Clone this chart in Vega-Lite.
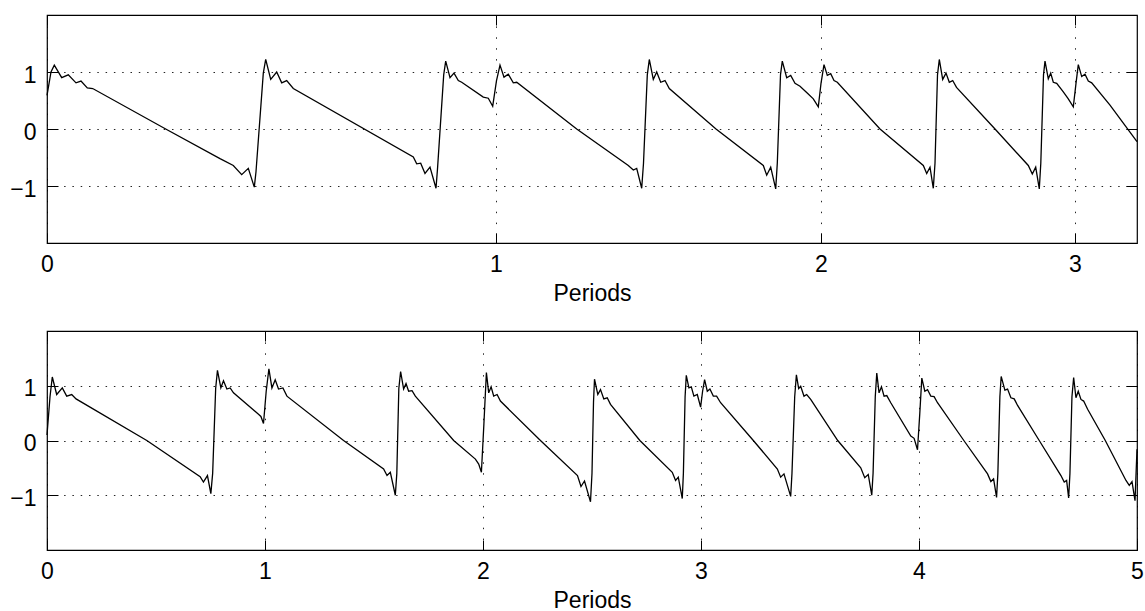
{
  "$schema": "https://vega.github.io/schema/vega-lite/v6.json",
  "padding": {"left": 9, "top": 13, "right": 8, "bottom": 0},
  "background": "white",
  "spacing": 23,
  "config": {
    "font": "Liberation Sans",
    "view": {"stroke": "black", "strokeWidth": 1.2},
    "axis": {
      "labelFontSize": 23, "titleFontSize": 23, "titleFontWeight": "normal",
      "labelColor": "black", "titleColor": "black", "tickColor": "black",
      "domain": false, "labelFlush": false, "labelOverlap": false,
      "gridColor": "black", "gridOpacity": 0.85, "gridWidth": 1
    },
    "axisX": {"tickSize": -10, "labelPadding": 20.4, "titlePadding": 6, "gridDash": [1.5, 9.4]},
    "axisY": {"tickSize": -11, "labelPadding": 22, "labelOffset": 3, "gridDash": [1.5, 6.8]}
  },
  "datasets": {
    "top": [
      {"t":0.000,"y":0.59},{"t":0.004,"y":1.0},{"t":0.0073,"y":1.12},{"t":0.0147,"y":0.9},{"t":0.0213,"y":0.95},{"t":0.029,"y":0.81},{"t":0.034,"y":0.84},{"t":0.0403,"y":0.72},{"t":0.0457,"y":0.71},{"t":0.1187,"y":0.0},{"t":0.173,"y":-0.52},{"t":0.1863,"y":-0.64},{"t":0.1947,"y":-0.8},{"t":0.2013,"y":-0.69},{"t":0.2073,"y":-1.02},
      {"t":0.209,"y":-0.75},{"t":0.2163,"y":0.98},{"t":0.2187,"y":1.22},{"t":0.2237,"y":0.87},{"t":0.2297,"y":1.0},{"t":0.2347,"y":0.81},{"t":0.2397,"y":0.85},{"t":0.2463,"y":0.71},{"t":0.3663,"y":-0.49},{"t":0.3697,"y":-0.61},{"t":0.3737,"y":-0.6},{"t":0.378,"y":-0.78},{"t":0.383,"y":-0.67},{"t":0.389,"y":-1.04},
      {"t":0.3905,"y":-0.7},{"t":0.3967,"y":0.95},{"t":0.3987,"y":1.19},{"t":0.403,"y":0.90},{"t":0.407,"y":0.98},{"t":0.4113,"y":0.85},{"t":0.4147,"y":0.82},{"t":0.4363,"y":0.56},{"t":0.4413,"y":0.54},{"t":0.4457,"y":0.40},
      {"t":0.4495,"y":0.85},{"t":0.453,"y":1.12},{"t":0.457,"y":0.91},{"t":0.4613,"y":0.96},{"t":0.4663,"y":0.81},{"t":0.4697,"y":0.82},{"t":0.5297,"y":0.0},{"t":0.5813,"y":-0.64},{"t":0.5863,"y":-0.72},{"t":0.5897,"y":-0.69},{"t":0.5947,"y":-1.04},
      {"t":0.5965,"y":-0.6},{"t":0.6003,"y":0.95},{"t":0.6023,"y":1.22},{"t":0.6063,"y":0.87},{"t":0.6097,"y":1.0},{"t":0.6137,"y":0.82},{"t":0.618,"y":0.85},{"t":0.6223,"y":0.71},{"t":0.669,"y":0.0},{"t":0.7163,"y":-0.64},{"t":0.7197,"y":-0.81},{"t":0.7237,"y":-0.67},{"t":0.7287,"y":-1.05},
      {"t":0.7303,"y":-0.6},{"t":0.7335,"y":0.95},{"t":0.7353,"y":1.19},{"t":0.7397,"y":0.90},{"t":0.7437,"y":0.94},{"t":0.748,"y":0.80},{"t":0.753,"y":0.75},{"t":0.761,"y":0.62},{"t":0.7663,"y":0.53},{"t":0.7713,"y":0.39},
      {"t":0.774,"y":0.8},{"t":0.777,"y":1.13},{"t":0.7803,"y":0.94},{"t":0.7837,"y":0.97},{"t":0.787,"y":0.85},{"t":0.7903,"y":0.82},{"t":0.833,"y":0.0},{"t":0.8763,"y":-0.64},{"t":0.8797,"y":-0.78},{"t":0.883,"y":-0.67},{"t":0.8863,"y":-1.04},
      {"t":0.888,"y":-0.6},{"t":0.8905,"y":0.95},{"t":0.8923,"y":1.22},{"t":0.8957,"y":0.87},{"t":0.899,"y":0.98},{"t":0.9023,"y":0.82},{"t":0.9057,"y":0.85},{"t":0.9095,"y":0.73},{"t":0.948,"y":0.0},{"t":0.9813,"y":-0.64},{"t":0.9853,"y":-0.79},{"t":0.9887,"y":-0.67},{"t":0.9923,"y":-1.05},
      {"t":0.9938,"y":-0.6},{"t":0.9965,"y":0.95},{"t":0.998,"y":1.19},{"t":1.0013,"y":0.88},{"t":1.0037,"y":0.98},{"t":1.0063,"y":0.82},{"t":1.0097,"y":0.80},{"t":1.0163,"y":0.65},{"t":1.0213,"y":0.53},{"t":1.0263,"y":0.39},
      {"t":1.029,"y":0.8},{"t":1.0313,"y":1.13},{"t":1.0347,"y":0.92},{"t":1.038,"y":0.96},{"t":1.0413,"y":0.84},{"t":1.0447,"y":0.81},{"t":1.063,"y":0.42},{"t":1.09,"y":-0.22}
    ],
    "bottom": [
      {"p":0,"y":0.10},{"p":0.0138,"y":0.8},{"p":0.0243,"y":1.16},{"p":0.0445,"y":0.84},{"p":0.0702,"y":0.96},{"p":0.0904,"y":0.81},{"p":0.1134,"y":0.84},{"p":0.1332,"y":0.76},{"p":0.4578,"y":0.0},{"p":0.7025,"y":-0.66},{"p":0.7176,"y":-0.76},{"p":0.7360,"y":-0.64},{"p":0.7516,"y":-0.97},
      {"p":0.7599,"y":-0.6},{"p":0.7737,"y":0.95},{"p":0.7819,"y":1.28},{"p":0.7975,"y":0.96},{"p":0.8095,"y":1.09},{"p":0.8251,"y":0.94},{"p":0.8402,"y":0.96},{"p":0.8554,"y":0.87},{"p":0.9702,"y":0.48},{"p":0.9812,"y":0.44},{"p":0.9931,"y":0.31},
      {"p":1.0055,"y":0.9},{"p":1.0179,"y":1.31},{"p":1.0317,"y":0.96},{"p":1.0468,"y":1.11},{"p":1.0620,"y":0.94},{"p":1.0822,"y":0.96},{"p":1.1006,"y":0.81},{"p":1.3604,"y":0.0},{"p":1.5441,"y":-0.52},{"p":1.5597,"y":-0.64},{"p":1.5749,"y":-0.58},{"p":1.5978,"y":-1.0},
      {"p":1.6047,"y":-0.6},{"p":1.6139,"y":0.95},{"p":1.6221,"y":1.26},{"p":1.6359,"y":0.94},{"p":1.6469,"y":1.04},{"p":1.6589,"y":0.90},{"p":1.6745,"y":0.91},{"p":1.6896,"y":0.81},{"p":1.8655,"y":0.0},{"p":1.9651,"y":-0.34},{"p":1.9803,"y":-0.43},{"p":1.9927,"y":-0.58},
      {"p":2.0041,"y":0.3},{"p":2.0156,"y":1.24},{"p":2.0262,"y":0.87},{"p":2.0372,"y":0.98},{"p":2.0491,"y":0.81},{"p":2.0647,"y":0.84},{"p":2.0799,"y":0.72},{"p":2.2635,"y":0.0},{"p":2.4334,"y":-0.64},{"p":2.4495,"y":-0.84},{"p":2.4656,"y":-0.74},{"p":2.4931,"y":-1.12},
      {"p":2.5000,"y":-0.6},{"p":2.5069,"y":0.7},{"p":2.5115,"y":1.12},{"p":2.5266,"y":0.84},{"p":2.5390,"y":0.93},{"p":2.5542,"y":0.76},{"p":2.5698,"y":0.78},{"p":2.5849,"y":0.66},{"p":2.7195,"y":0.0},{"p":2.8682,"y":-0.58},{"p":2.8834,"y":-0.73},{"p":2.8958,"y":-0.67},{"p":2.9141,"y":-1.06},
      {"p":2.9192,"y":-0.6},{"p":2.9270,"y":0.8},{"p":2.9325,"y":1.19},{"p":2.9445,"y":0.96},{"p":2.9555,"y":0.98},{"p":2.9674,"y":0.81},{"p":2.9830,"y":0.84},{"p":2.9982,"y":0.61},
      {"p":3.0073,"y":0.9},{"p":3.0165,"y":1.11},{"p":3.0289,"y":0.90},{"p":3.0409,"y":0.94},{"p":3.0565,"y":0.81},{"p":3.0716,"y":0.81},{"p":3.0900,"y":0.69},{"p":3.2401,"y":0.0},{"p":3.3503,"y":-0.52},{"p":3.3655,"y":-0.67},{"p":3.3806,"y":-0.61},{"p":3.4114,"y":-1.02},
      {"p":3.4173,"y":-0.6},{"p":3.4298,"y":0.8},{"p":3.4376,"y":1.2},{"p":3.4481,"y":0.95},{"p":3.4573,"y":0.99},{"p":3.4725,"y":0.81},{"p":3.4848,"y":0.84},{"p":3.5032,"y":0.75},{"p":3.6272,"y":0.0},{"p":3.7328,"y":-0.50},{"p":3.7511,"y":-0.68},{"p":3.7672,"y":-0.62},{"p":3.7833,"y":-1.0},
      {"p":3.7893,"y":-0.6},{"p":3.7994,"y":0.8},{"p":3.8063,"y":1.23},{"p":3.8168,"y":0.87},{"p":3.8278,"y":0.98},{"p":3.8398,"y":0.81},{"p":3.8522,"y":0.82},{"p":3.8705,"y":0.69},{"p":3.9624,"y":0.08},{"p":3.9775,"y":0.04},{"p":3.9931,"y":-0.17},
      {"p":4.0037,"y":0.5},{"p":4.0129,"y":1.14},{"p":4.0267,"y":0.90},{"p":4.0390,"y":0.93},{"p":4.0542,"y":0.81},{"p":4.0693,"y":0.80},{"p":4.0849,"y":0.69},{"p":4.2057,"y":0.0},{"p":4.3145,"y":-0.61},{"p":4.3297,"y":-0.75},{"p":4.3421,"y":-0.70},{"p":4.3558,"y":-1.04},
      {"p":4.3618,"y":-0.6},{"p":4.3710,"y":0.8},{"p":4.3770,"y":1.17},{"p":4.3939,"y":0.92},{"p":4.4063,"y":0.94},{"p":4.4215,"y":0.78},{"p":4.4366,"y":0.76},{"p":4.4522,"y":0.64},{"p":4.5515,"y":0.0},{"p":4.6511,"y":-0.64},{"p":4.6662,"y":-0.76},{"p":4.6772,"y":-0.73},{"p":4.6864,"y":-1.05},
      {"p":4.6924,"y":-0.6},{"p":4.7016,"y":0.8},{"p":4.7094,"y":1.15},{"p":4.7199,"y":0.78},{"p":4.7305,"y":0.90},{"p":4.7429,"y":0.75},{"p":4.7553,"y":0.72},{"p":4.7736,"y":0.57},{"p":4.8545,"y":0.0},{"p":4.9495,"y":-0.73},{"p":4.9646,"y":-0.82},{"p":4.9771,"y":-0.75},{"p":4.9909,"y":-1.10},{"p":5.0,"y":-0.16}
    ]
  },
  "vconcat": [
    {
      "width": 1090, "height": 228,
      "data": {"name": "top"},
      "layer": [
        {
          "mark": {"type": "line", "color": "black", "strokeWidth": 1.3},
          "encoding": {
            "x": {"field": "t", "type": "quantitative", "scale": {"domain": [0, 1.09], "nice": false, "zero": false},
                  "axis": {"orient": "bottom", "values": [0, 0.449, 0.774, 1.028], "grid": true, "title": "Periods",
                           "labelExpr": "datum.value < 0.2 ? '0' : datum.value < 0.6 ? '1' : datum.value < 0.9 ? '2' : '3'"}},
            "y": {"field": "y", "type": "quantitative", "scale": {"domain": [-2, 2], "nice": false},
                  "axis": {"orient": "left", "values": [-1, 0, 1], "grid": true, "title": null}}
          }
        },
        {
          "mark": {"type": "line", "color": "black", "strokeOpacity": 0},
          "encoding": {
            "x": {"field": "t", "type": "quantitative",
                  "axis": {"orient": "top", "values": [0, 0.449, 0.774, 1.028], "grid": false, "labels": false, "title": null}},
            "y": {"field": "y", "type": "quantitative",
                  "axis": {"orient": "right", "values": [-1, 0, 1], "grid": false, "labels": false, "title": null}}
          }
        }
      ],
      "resolve": {"axis": {"x": "independent", "y": "independent"}}
    },
    {
      "width": 1090, "height": 219,
      "data": {"name": "bottom"},
      "layer": [
        {
          "mark": {"type": "line", "color": "black", "strokeWidth": 1.3},
          "encoding": {
            "x": {"field": "p", "type": "quantitative", "scale": {"domain": [0, 5], "nice": false, "zero": false},
                  "axis": {"orient": "bottom", "values": [0, 1, 2, 3, 4, 5], "format": "d", "grid": true, "title": "Periods"}},
            "y": {"field": "y", "type": "quantitative", "scale": {"domain": [-2, 2], "nice": false},
                  "axis": {"orient": "left", "values": [-1, 0, 1], "grid": true, "title": null}}
          }
        },
        {
          "mark": {"type": "line", "color": "black", "strokeOpacity": 0},
          "encoding": {
            "x": {"field": "p", "type": "quantitative",
                  "axis": {"orient": "top", "values": [0, 1, 2, 3, 4, 5], "grid": false, "labels": false, "title": null}},
            "y": {"field": "y", "type": "quantitative",
                  "axis": {"orient": "right", "values": [-1, 0, 1], "grid": false, "labels": false, "title": null}}
          }
        }
      ],
      "resolve": {"axis": {"x": "independent", "y": "independent"}}
    }
  ]
}
